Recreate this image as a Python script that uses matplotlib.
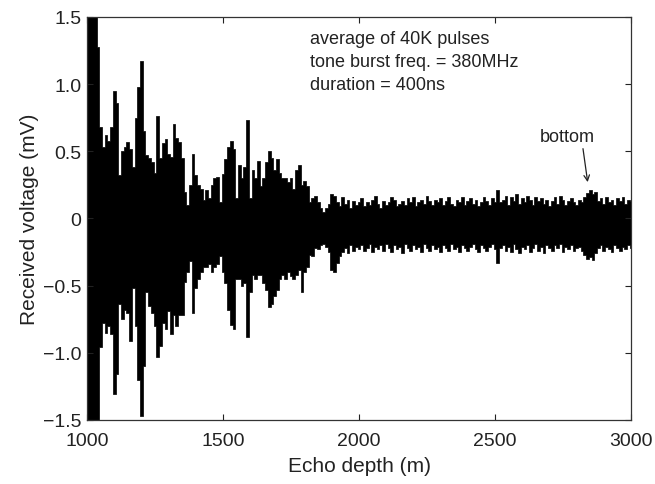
import numpy as np
import matplotlib
matplotlib.use("Agg")
import matplotlib.pyplot as plt

plt.rcParams['font.family'] = ['Liberation Sans', 'DejaVu Sans']

# Echo depth sample positions (m), every 10 m
depth = np.arange(1000, 3001, 10)

# Upper envelope of the received waveform (mV), 1000-1900 m
upper_near = [
    1.6, 1.6, 1.6, 1.6, 1.28, 0.68, 0.53, 0.62, 0.58, 0.68,
    0.95, 0.86, 0.32, 0.50, 0.53, 0.57, 0.52, 0.38, 0.75, 0.98,
    1.17, 0.65, 0.47, 0.45, 0.42, 0.34, 0.76, 0.45, 0.56, 0.59,
    0.48, 0.46, 0.70, 0.60, 0.57, 0.45, 0.20, 0.10, 0.25, 0.48,
    0.32, 0.25, 0.22, 0.14, 0.21, 0.15, 0.25, 0.30, 0.31, 0.12,
    0.33, 0.44, 0.53, 0.58, 0.52, 0.15, 0.40, 0.30, 0.38, 0.73,
    0.15, 0.36, 0.30, 0.43, 0.24, 0.30, 0.42, 0.50, 0.45, 0.36,
    0.44, 0.34, 0.30, 0.30, 0.27, 0.30, 0.22, 0.36, 0.40, 0.25,
    0.28, 0.24, 0.12, 0.15, 0.17, 0.12, 0.08, 0.05, 0.08, 0.11,
    0.18,
]
# Lower envelope (mV), 1000-1900 m
lower_near = [
    -1.6, -1.6, -1.6, -1.6, -1.5, -0.96, -0.78, -0.85, -0.80, -0.86,
    -1.31, -1.16, -0.64, -0.75, -0.68, -0.70, -0.91, -0.52, -0.80, -1.20,
    -1.47, -1.10, -0.55, -0.65, -0.70, -0.80, -1.03, -0.95, -0.78, -0.82,
    -0.69, -0.86, -0.72, -0.80, -0.72, -0.72, -0.47, -0.40, -0.32, -0.70,
    -0.52, -0.45, -0.40, -0.36, -0.36, -0.34, -0.40, -0.36, -0.34, -0.28,
    -0.40, -0.48, -0.68, -0.79, -0.82, -0.45, -0.45, -0.50, -0.48, -0.88,
    -0.55, -0.42, -0.45, -0.42, -0.42, -0.48, -0.53, -0.66, -0.64, -0.58,
    -0.53, -0.45, -0.42, -0.45, -0.40, -0.43, -0.45, -0.42, -0.38, -0.55,
    -0.40, -0.36, -0.27, -0.28, -0.22, -0.23, -0.20, -0.19, -0.21, -0.25,
    -0.38,
]
# Upper envelope (mV), 1910-3000 m
upper_far = [
    0.17, 0.12, 0.09, 0.16, 0.11, 0.14, 0.08, 0.13, 0.10, 0.12,
    0.15, 0.09, 0.12, 0.10, 0.14, 0.17, 0.11, 0.08, 0.13, 0.10,
    0.12, 0.16, 0.14, 0.09, 0.11, 0.13, 0.10, 0.15, 0.12, 0.16,
    0.09, 0.12, 0.14, 0.11, 0.17, 0.13, 0.10, 0.14, 0.12, 0.15,
    0.10, 0.13, 0.16, 0.11, 0.09, 0.14, 0.12, 0.16, 0.10, 0.13,
    0.15, 0.11, 0.14, 0.09, 0.12, 0.16, 0.13, 0.10, 0.15, 0.12,
    0.21, 0.12, 0.14, 0.17, 0.10, 0.16, 0.13, 0.18, 0.11, 0.15,
    0.12, 0.17, 0.14, 0.10, 0.16, 0.13, 0.15, 0.11, 0.14, 0.09,
    0.13, 0.16, 0.11, 0.17, 0.14, 0.10, 0.13, 0.15, 0.12, 0.10,
    0.14, 0.12, 0.16, 0.19, 0.21, 0.18, 0.20, 0.13, 0.15, 0.11,
    0.16, 0.12, 0.14, 0.10, 0.15, 0.13, 0.16, 0.11, 0.14, 0.13,
]
# Lower envelope (mV), 1910-3000 m
lower_far = [
    -0.40, -0.33, -0.28, -0.25, -0.22, -0.26, -0.20, -0.24, -0.21, -0.23,
    -0.20, -0.24, -0.22, -0.19, -0.25, -0.21, -0.23, -0.20, -0.24, -0.19,
    -0.22, -0.25, -0.20, -0.23, -0.21, -0.26, -0.19, -0.22, -0.24, -0.20,
    -0.23, -0.21, -0.25, -0.19, -0.22, -0.24, -0.20, -0.23, -0.21, -0.25,
    -0.20, -0.22, -0.24, -0.19, -0.23, -0.21, -0.25, -0.20, -0.22, -0.24,
    -0.21, -0.19, -0.23, -0.25, -0.20, -0.22, -0.24, -0.21, -0.19, -0.23,
    -0.33, -0.22, -0.20, -0.24, -0.21, -0.25, -0.19, -0.23, -0.26, -0.21,
    -0.23, -0.20, -0.25, -0.22, -0.19, -0.24, -0.21, -0.26, -0.20, -0.22,
    -0.24, -0.20, -0.22, -0.19, -0.25, -0.21, -0.23, -0.20, -0.24, -0.22,
    -0.21, -0.24, -0.27, -0.30, -0.29, -0.31, -0.26, -0.22, -0.20, -0.24,
    -0.21, -0.23, -0.25, -0.20, -0.22, -0.24, -0.21, -0.23, -0.20, -0.22,
]

x_ticks = [1000, 1500, 2000, 2500, 3000]
y_ticks = [-1.5, -1.0, -0.5, 0, 0.5, 1.0, 1.5]
y_ticklabels = ['\u22121.5', '\u22121.0', '\u22120.5', '0', '0.5', '1.0', '1.5']

notes = ["average of 40K pulses", "tone burst freq. = 380MHz", "duration = 400ns"]

upper = np.concatenate([upper_near, upper_far])
lower = np.concatenate([lower_near, lower_far])

fig = plt.figure(figsize=(6.55, 4.85), dpi=100)
ax = fig.add_axes([0.1328, 0.132, 0.8306, 0.831])

ax.fill_between(depth, lower, upper, step='mid', color='black', linewidth=0.5,
                edgecolor='black')

ax.set_xlim(1000, 3000)
ax.set_ylim(-1.5, 1.5)
ax.set_xticks(x_ticks)
ax.set_yticks(y_ticks)
ax.set_yticklabels(y_ticklabels)
ax.tick_params(direction='in', length=4, width=0.8, top=True, right=True,
               labelsize=14, colors='#222222')
ax.tick_params(axis='x', pad=9)
ax.tick_params(axis='y', pad=4)
for s in ax.spines.values():
    s.set_color('#333333')
    s.set_linewidth(0.9)

ax.set_xlabel("Echo depth (m)", fontsize=15, color='#222222', labelpad=5)
ax.set_ylabel("Received voltage (mV)", fontsize=15, color='#222222', labelpad=3)

for i, t in enumerate(notes):
    ax.text(1820, 1.337 - i * 0.171, t, fontsize=13, color='#222222',
            ha='left', va='center')

ax.text(2765, 0.61, "bottom", fontsize=13, color='#222222', ha='center', va='center')
ax.annotate("", xy=(2842, 0.25), xytext=(2822, 0.54),
            arrowprops=dict(arrowstyle='->', lw=0.9, color='#222222'))

fig.savefig("out.png", dpi=100)
